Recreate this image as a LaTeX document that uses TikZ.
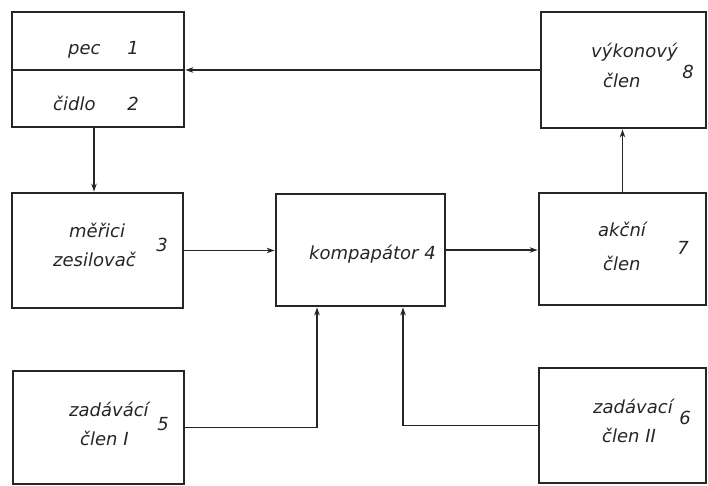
\documentclass[tikz,border=0pt]{standalone}
\usepackage{fontspec}
\setmainfont{DejaVu Sans}
\usetikzlibrary{arrows.meta,positioning}
\tikzset{
  blok/.style={draw=black!85, line width=2.8pt, inner sep=0pt},
  popis/.style={anchor=base west, inner sep=0pt, text=black!85,
    font=\fontsize{18}{20}\selectfont\itshape},
  cislo/.style={popis, anchor=base},
  spoj/.style={draw=black!85, line width=1.8pt},
  sip/.style={spoj, -{Stealth[length=8pt,width=5.5pt]}},
}

\begin{document}
\begin{tikzpicture}[x=1pt, y=-1pt]
\useasboundingbox (0,0) rectangle (708,485);
% Bloky
\node[blok, minimum width=172pt, minimum height=58pt] (pec) at (98,41) {};
\node[blok, minimum width=172pt, minimum height=57pt] (cidlo) at (98,98.5) {};
\node[blok, minimum width=165pt, minimum height=116pt] (vykon) at (623.5,70) {};
\node[blok, minimum width=171pt, minimum height=115pt] (meric) at (97.5,250.5) {};
\node[blok, minimum width=169pt, minimum height=112pt] (komp) at (360.5,250) {};
\node[blok, minimum width=167pt, minimum height=112pt] (akcni) at (622.5,249) {};
\node[blok, minimum width=171pt, minimum height=113pt] (zad1) at (98.5,427.5) {};
\node[blok, minimum width=167pt, minimum height=115pt] (zad2) at (622.5,425.5) {};
% Texty v blocich
\foreach \jm/\x/\y/\txt in {tpec/68/54/pec, tcidlo/53/110/čidlo,
    tvyk/591/57/výkonový, tvclen/603/87/člen,
    tmer/69/237/měřici, tzes/53/266/zesilovač,
    tkomp/309/259/kompapátor 4,
    takc/598/236/akční, taclen/603/270/člen,
    tzad/69/416/zadávácí, tzclen/80/445/člen I,
    tzadd/593/413/zadávací, tzzclen/602/442/člen II}{
  \node[popis] (\jm) at (\x,\y) {\txt};
}
% Cisla bloku
\foreach \n/\x/\y in {1/133/54, 2/133/110, 3/162/251, 5/163/430,
    6/685/424, 7/683/254, 8/688/78}{
  \node[cislo] (c\n) at (\x,\y) {\n};
}
% Spoje
\draw[sip] (vykon.west) -- (vykon.west -| pec.east);
\draw[sip] (akcni.north) -- (akcni.north |- vykon.south);
\draw[sip] ([xshift=-4pt]cidlo.south) -- ([xshift=-4pt]cidlo.south |- meric.north);
\draw[sip] (meric.east) -- (meric.east -| komp.west);
\draw[sip] (komp.east) -- (komp.east -| akcni.west);
\coordinate (vstup1) at ([xshift=-43.5pt]komp.south);
\coordinate (vstup2) at ([xshift=42.5pt]komp.south);
\draw[sip] (zad1.east) -| (vstup1);
\draw[sip] (zad2.west) -| (vstup2);
\end{tikzpicture}
\end{document}
